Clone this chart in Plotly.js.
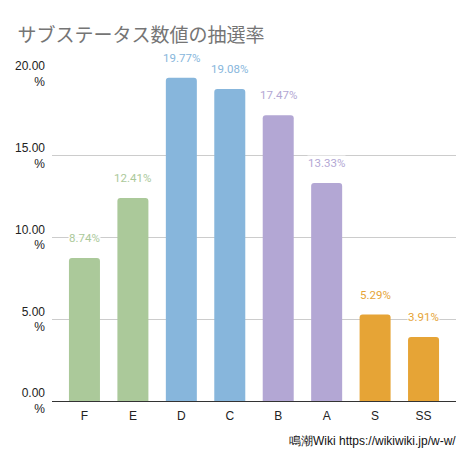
<!DOCTYPE html>
<html>
<head>
<meta charset="utf-8">
<script src="https://cdn.plot.ly/plotly-3.0.1.min.js"></script>
<style>
  html, body { margin: 0; padding: 0; background: #fff; }
  #chart { width: 476px; height: 466px; }
</style>
</head>
<body>
<div id="chart"></div>
<script>
// ranks and their draw rates (%)
let ranks = ['F', 'E', 'D', 'C', 'B', 'A', 'S', 'SS'];
let rates = [8.74, 12.41, 19.77, 19.08, 17.47, 13.33, 5.29, 3.91];
let barColors = ['#abc99a', '#abc99a', '#87b6dc', '#87b6dc', '#b3a7d4', '#b3a7d4', '#e6a436', '#e6a436'];

let yTicks = [0, 5, 10, 15, 20];
let yTickText = ['0.00<br>%', '5.00<br>%', '10.00<br>%', '15.00<br>%', '20.00<br>%'];

let font = '"Noto Sans CJK JP", Roboto, "Noto Sans", sans-serif';
let plain = '"Liberation Sans", Arial, sans-serif';

let trace = {
  type: 'bar',
  x: ranks,
  y: rates,
  marker: { color: barColors },
  hoverinfo: 'none'
};

// value labels above each bar
let labels = ranks.map(function (r, i) {
  return {
    x: r,
    y: rates[i],
    text: rates[i].toFixed(2) + '%',
    showarrow: false,
    yanchor: 'middle',
    yshift: 20,
    bgcolor: 'rgba(255,255,255,0.85)',
    borderpad: 0,
    font: { family: 'Roboto, sans-serif', size: 11.5, color: barColors[i] }
  };
});

labels.push({
  xref: 'paper', yref: 'paper',
  x: 1.005, y: -0.122,
  xanchor: 'right', yanchor: 'middle',
  text: '鳴潮Wiki https://wikiwiki.jp/w-w/',
  showarrow: false,
  font: { family: plain, size: 12, color: '#111' }
});

let layout = {
  width: 476,
  height: 466,
  margin: { l: 52, r: 20, t: 74, b: 65 },
  paper_bgcolor: '#fff',
  plot_bgcolor: '#fff',
  bargap: 0.36,
  showlegend: false,
  barcornerradius: 3,
  title: {
    text: 'サブステータス数値の抽選率',
    x: 0.037, xanchor: 'left',
    y: 0.925, yanchor: 'middle',
    font: { family: font, size: 19, color: '#757575' }
  },
  xaxis: {
    type: 'category',
    range: [-0.67, 7.67],
    showgrid: false,
    showline: true,
    linecolor: '#333',
    linewidth: 1,
    ticks: '',
    ticklabelstandoff: 4,
    tickfont: { family: plain, size: 12, color: '#222' }
  },
  yaxis: {
    range: [0, 20],
    tickmode: 'array',
    tickvals: yTicks,
    ticktext: yTickText,
    showgrid: true,
    gridcolor: '#cccccc',
    zeroline: false,
    ticks: '',
    ticklabelstandoff: 6,
    tickfont: { family: plain, size: 12, color: '#222' }
  },
  annotations: labels
};

Plotly.newPlot('chart', [trace], layout, { displayModeBar: false, staticPlot: true });
</script>
</body>
</html>
